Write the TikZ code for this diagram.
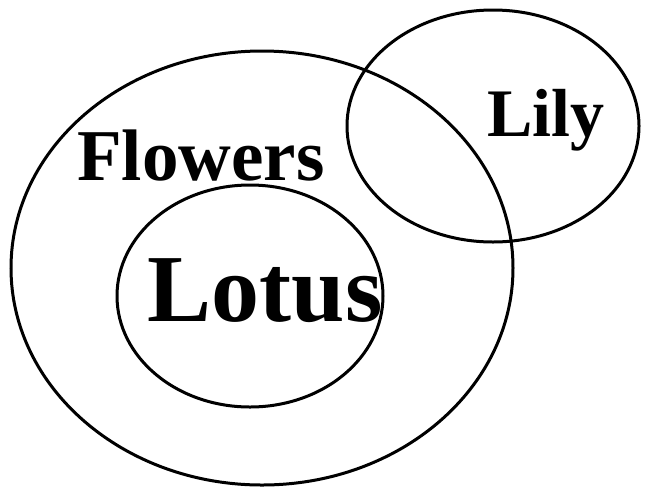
\documentclass[tikz,border=0pt]{standalone}
\usepackage{fontspec}
\setmainfont{Liberation Serif}
\begin{document}
\begin{tikzpicture}[x=1pt,y=-1pt,
  setline/.style={draw=black,line width=3pt},
  lbl/.style={font=\bfseries,inner sep=0pt,anchor=base}]
\useasboundingbox (0,0) rectangle (645,491);
\draw[setline] (262,268) ellipse[x radius=251,y radius=217];
\draw[setline] (250,296) ellipse[x radius=133,y radius=111];
\draw[setline] (493,126) ellipse[x radius=146,y radius=116];
\node[lbl,font=\fontsize{73}{80}\selectfont\bfseries] (flowers) at (201,180) {Flowers};
\node[lbl,font=\fontsize{96}{100}\selectfont\bfseries] (lotus) at (265,321) {Lotus};
\node[lbl,font=\fontsize{68}{72}\selectfont\bfseries] (lily) at (546,136) {Lily};
\end{tikzpicture}
\end{document}
